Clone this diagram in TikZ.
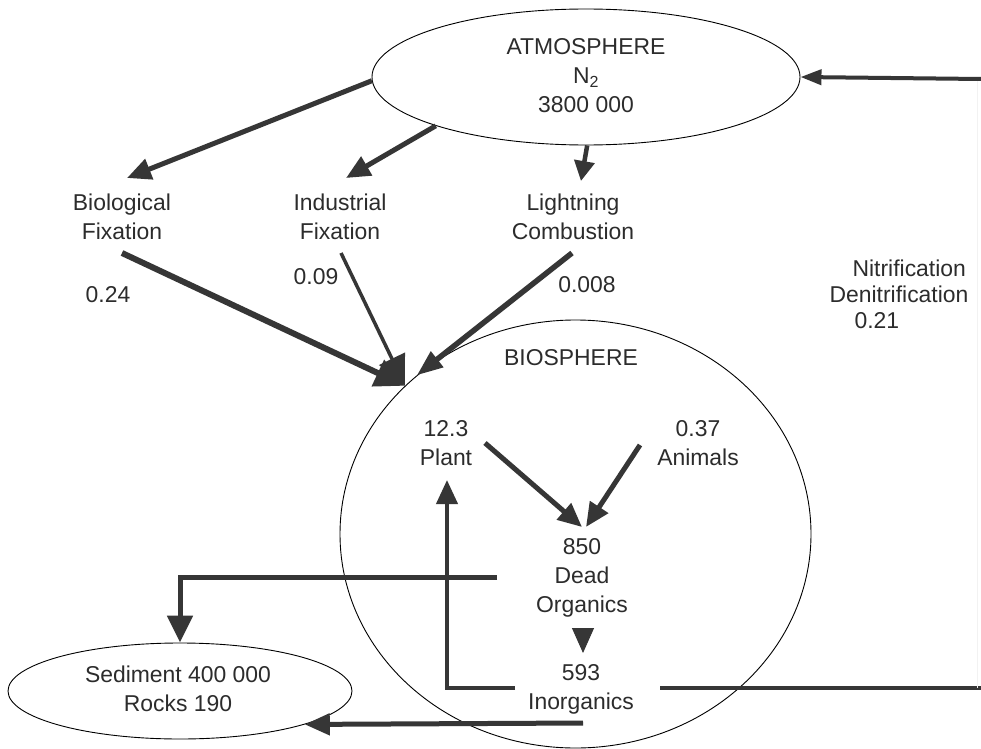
\documentclass[tikz,border=0pt]{standalone}
\usepackage{fontspec}
\setmainfont{Liberation Sans}
\usetikzlibrary{arrows.meta,shapes.geometric}
\definecolor{ink}{HTML}{2C2C2C}
\definecolor{flow}{HTML}{363636}

\begin{document}
\begin{tikzpicture}[x=1bp,y=-1bp,
  txt/.style={text=ink,font=\fontsize{23}{29}\selectfont,align=center,inner sep=0pt},
  pool/.style={draw=black,line width=0.9bp,ellipse,inner sep=0pt},
  flowline/.style={draw=flow,line width=5bp,-{Triangle[length=24bp,width=21bp]}},
  plainflow/.style={draw=flow,line width=4.5bp},
  faint/.style={draw=black!5,line width=1bp}]
\useasboundingbox (0,0) rectangle (981,749);
\fill[white] (0,0) rectangle (981,749);

% reservoirs
\node[pool,minimum width=428bp,minimum height=136bp] (atm) at (586,77) {};
\node[pool,minimum width=471bp,minimum height=428bp] (bios) at (575.5,534) {};
\node[pool,minimum width=344bp,minimum height=96bp] (sed) at (180,691) {};

% labels
\node[txt] (atmtext) at (586,76) {ATMOSPHERE\\N\textsubscript{2}\\3800 000};
\node[txt] (bio) at (122,217) {Biological\\Fixation};
\node[txt] (ind) at (340,217) {Industrial\\Fixation};
\node[txt] (lig) at (573,217) {Lightning\\Combustion};
\node[txt] (f24) at (108,295) {0.24};
\node[txt] (f09) at (316,277) {0.09};
\node[txt] (f008) at (587,285) {0.008};
\node[txt,align=left,font=\fontsize{23}{26}\selectfont] (nit) at (899,294)
  {\hspace*{23bp}Nitrification\\Denitrification\\\hspace*{25bp}0.21};
\node[txt] (biost) at (571,358) {BIOSPHERE};
\node[txt] (plant) at (446,443) {12.3\\Plant};
\node[txt] (anim) at (698,443) {0.37\\Animals};
\node[txt] (dead) at (582,578) {850\\Dead\\Organics};
\node[txt] (inorg) at (581,689) {593\\Inorganics};
\node[txt] (sedt) at (178,689) {Sediment 400 000\\Rocks 190};

% connector end points
\coordinate (bioIn) at (127,178);
\coordinate (indIn) at (346,178);
\coordinate (ligIn) at (581,181);
\coordinate (bioOut) at (122,253);
\coordinate (indOut) at (341,253);
\coordinate (ligOut) at (572,253);
\coordinate (plantOut) at (485,443);
\coordinate (animOut) at (640,445);
\coordinate (deadIn1) at (582,527);
\coordinate (deadIn2) at (586,527);
\coordinate (decayA) at (583,628);
\coordinate (decayB) at (583,653);
\coordinate (deadOut) at (497,577);
\coordinate (inorgW) at (515,688);
\coordinate (plantIn) at (447,480);
\coordinate (inorgE) at (660,688);
\coordinate (rimS) at (981,688);
\coordinate (rimN) at (981,79);
\coordinate (edgeS) at (977,688);
\coordinate (edgeN) at (977,79);
\coordinate (inorgB) at (583,723);

% fixation from the atmosphere
\draw[flowline] (atm.181) -- (bioIn);
\draw[flowline] (atm.198) -- (indIn);
\draw[flowline,line width=4.5bp,-{Triangle[length=20bp,width=20bp]}] (atm.271) -- (ligIn);

% fixation into the biosphere
\draw[flowline,line width=6bp,-{Triangle[length=30bp,width=28bp]}] (bioOut) -- (bios.139);
\draw[flowline,line width=3.5bp,-{Triangle[length=30bp,width=28bp]}] (indOut) -- (bios.139);
\draw[flowline,line width=5.5bp,-{Triangle[length=26bp,width=19bp]}] (ligOut) -- (bios.135);

% within the biosphere
\draw[flowline] (plantOut) -- (deadIn1);
\draw[flowline] (animOut) -- (deadIn2);
\draw[flowline,line width=1bp,-{Triangle[length=25bp,width=22bp]}] (decayA) -- (decayB);
\draw[flowline,line width=4bp] (inorgW) -| (plantIn);

% burial
\draw[flowline,-{Triangle[length=27bp,width=25bp]}] (deadOut) -| (sed.north);
\draw[flowline,-{Triangle[length=25bp,width=21bp]}] (inorgB) -- (sed.345);

% return to the atmosphere
\draw[plainflow] (inorgE) -- (rimS);
\draw[faint] (edgeS) -- (edgeN);
\draw[flowline,line width=4bp,-{Triangle[length=21bp,width=15bp]}] (rimN) -- (atm.east);
\end{tikzpicture}
\end{document}
